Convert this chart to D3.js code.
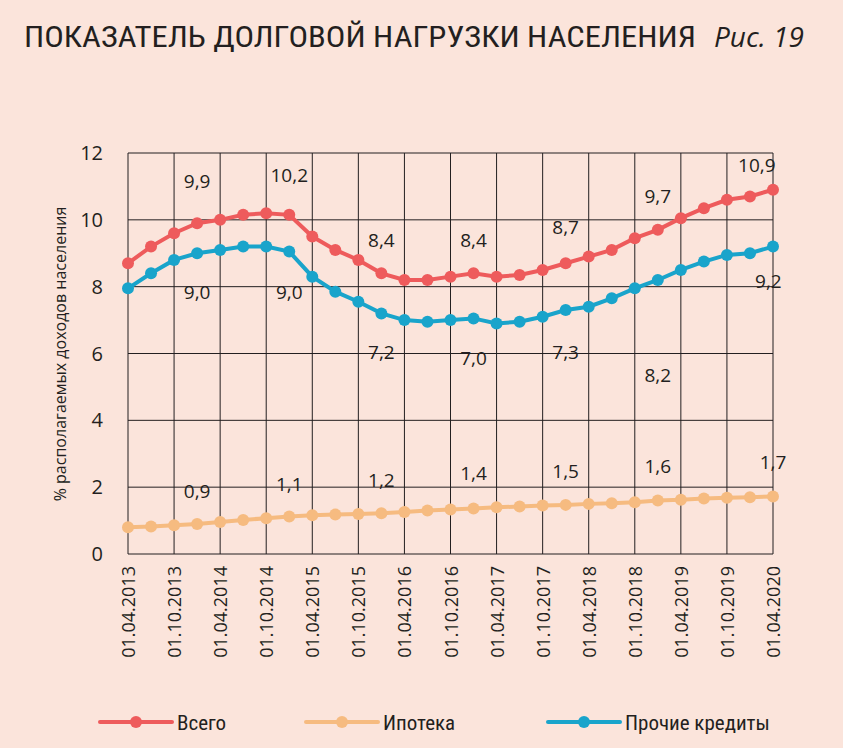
<!DOCTYPE html>
<html><head><meta charset="utf-8">
<script src="https://cdn.jsdelivr.net/npm/d3@7"></script>
<style>body{margin:0;background:#fbe4db;}svg{display:block;font-family:"Open Sans",sans-serif;}</style>
</head><body><svg id="c" width="843" height="748"></svg>
<script>
const xLabels = ["01.04.2013","01.10.2013","01.04.2014","01.10.2014","01.04.2015","01.10.2015","01.04.2016","01.10.2016","01.04.2017","01.10.2017","01.04.2018","01.10.2018","01.04.2019","01.10.2019","01.04.2020"];
const total = [8.7,9.2,9.6,9.9,10.0,10.15,10.2,10.15,9.5,9.1,8.8,8.4,8.2,8.2,8.3,8.4,8.3,8.35,8.5,8.7,8.9,9.1,9.45,9.7,10.05,10.35,10.6,10.7,10.9];
const other = [7.95,8.4,8.8,9.0,9.1,9.2,9.2,9.05,8.3,7.85,7.55,7.2,7.0,6.95,7.0,7.05,6.9,6.95,7.1,7.3,7.4,7.65,7.95,8.2,8.5,8.75,8.95,9.0,9.2];
const mortgage = [0.8,0.82,0.86,0.9,0.96,1.02,1.07,1.12,1.16,1.18,1.2,1.22,1.26,1.3,1.33,1.36,1.4,1.42,1.45,1.47,1.5,1.52,1.55,1.6,1.62,1.66,1.68,1.7,1.72];
const totalLabels = [[3,"9,9"],[7,"10,2"],[11,"8,4"],[15,"8,4"],[19,"8,7"],[23,"9,7"],[27.3,"10,9"]];
const otherLabels = [[3,"9,0"],[7,"9,0"],[11,"7,2"],[15,"7,0"],[19,"7,3"],[23,"8,2"],[27.8,"9,2"]];
const mortLabels = [[3,"0,9"],[7,"1,1"],[11,"1,2"],[15,"1,4"],[19,"1,5"],[23,"1,6"],[28,"1,7"]];
const yTicks = [0,2,4,6,8,10,12];
const seriesNames = ["Всего","Ипотека","Прочие кредиты"];
const colors = ["#ee5b5c","#f6bb80","#19a4cb"];

const svg = d3.select("#c");
const x = d3.scaleLinear().domain([0,28]).range([128,773]);
const y = d3.scaleLinear().domain([0,12]).range([554,153]);

svg.append("text").attr("x",24).attr("y",47).attr("font-size",29).attr("fill","#231f20")
  .attr("font-family","'Roboto Condensed','Liberation Sans Narrow','Roboto',sans-serif")
  .attr("textLength",672).attr("lengthAdjust","spacingAndGlyphs")
  .text("ПОКАЗАТЕЛЬ ДОЛГОВОЙ НАГРУЗКИ НАСЕЛЕНИЯ");
svg.append("text").attr("x",714).attr("y",47).attr("font-size",28).attr("font-style","italic").attr("fill","#231f20").text("Рис. 19");

const g = svg.append("g");
yTicks.forEach(t=>{
  g.append("line").attr("x1",x(0)).attr("x2",x(28)).attr("y1",y(t)).attr("y2",y(t)).attr("stroke","#231f20").attr("stroke-width",1);
  g.append("text").attr("x",103).attr("y",y(t)+7).attr("text-anchor","end").attr("font-size",20).attr("fill","#231f20").text(t);
});
xLabels.forEach((l,i)=>{
  const xx=x(i*2);
  g.append("line").attr("x1",xx).attr("x2",xx).attr("y1",y(12)).attr("y2",y(0)).attr("stroke","#231f20").attr("stroke-width",1);
  g.append("text").attr("transform",`translate(${xx+7},566) rotate(-90)`).attr("text-anchor","end").attr("font-size",18).attr("fill","#231f20").text(l);
});
svg.append("text").attr("transform","translate(66,354) rotate(-90)").attr("text-anchor","middle").attr("font-size",16).attr("fill","#231f20").text("% располагаемых доходов населения");

const line = d3.line().x((d,i)=>x(i)).y(d=>y(d));
[total,mortgage,other].forEach((s,k)=>{
  g.append("path").datum(s).attr("d",line).attr("fill","none").attr("stroke",colors[k]).attr("stroke-width",4);
  g.selectAll(null).data(s).enter().append("circle").attr("cx",(d,i)=>x(i)).attr("cy",d=>y(d)).attr("r",6).attr("fill",colors[k]);
});
const lab=(arr,ys)=>arr.forEach(([i,t],j)=>g.append("text").attr("x",x(i)).attr("y",ys[j]).attr("text-anchor","middle").attr("font-size",19).attr("fill","#231f20").text(t));
lab(totalLabels,[188,182,247,247,234,203,172]);
lab(otherLabels,[299,299,359,365,359,382,288]);
lab(mortLabels,[498,491,487,480,478,473,469]);

seriesNames.forEach((n,k)=>{
  const x0=[100,306,548][k], ly=722;
  svg.append("line").attr("x1",x0).attr("x2",x0+72).attr("y1",ly).attr("y2",ly).attr("stroke",colors[k]).attr("stroke-width",4).attr("stroke-linecap","round");
  svg.append("circle").attr("cx",x0+36).attr("cy",ly).attr("r",6).attr("fill",colors[k]);
  svg.append("text").attr("x",x0+77).attr("y",ly+8).attr("font-size",21).attr("fill","#231f20")
    .attr("font-family","'Roboto Condensed','Liberation Sans Narrow',sans-serif").text(n);
});
</script></body></html>
